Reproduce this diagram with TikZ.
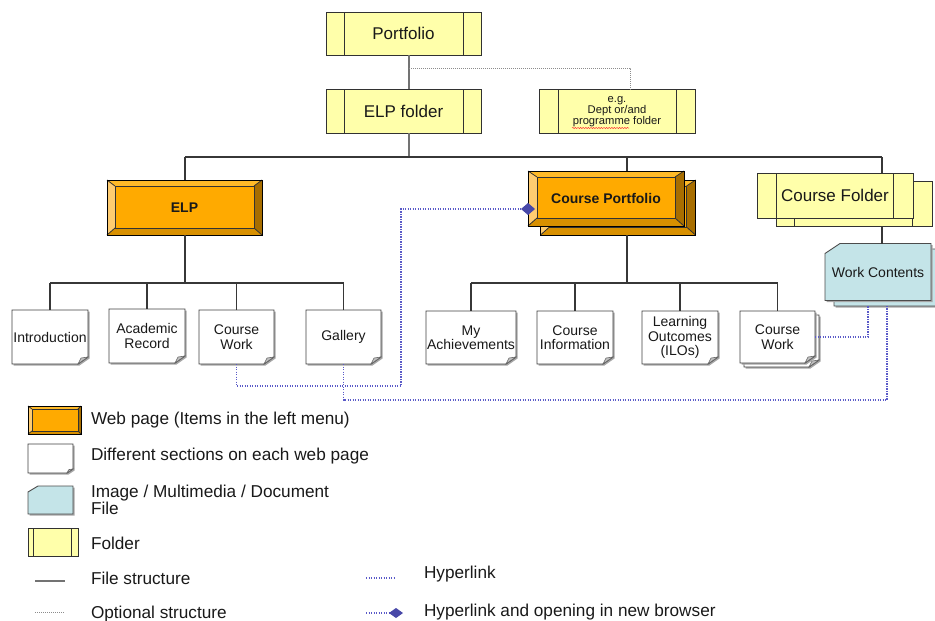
\documentclass[tikz,border=0pt]{standalone}
\usepackage{fontspec}
\setmainfont{Liberation Sans}
\usetikzlibrary{arrows.meta,calc,decorations.pathmorphing}
\pgfdeclarelayer{bg}
\pgfsetlayers{bg,main}

\definecolor{folderyellow}{RGB}{255,255,170}
\definecolor{framegray}{RGB}{50,50,50}
\definecolor{orangemain}{RGB}{255,170,0}
\definecolor{bevleft}{RGB}{255,204,112}
\definecolor{bevtop}{RGB}{255,186,40}
\definecolor{bevright}{RGB}{168,110,0}
\definecolor{bevbottom}{RGB}{216,144,0}
\definecolor{filecyan}{RGB}{196,228,232}
\definecolor{hyperblue}{RGB}{90,90,200}
\definecolor{diamondblue}{RGB}{72,72,168}
\definecolor{treegray}{RGB}{55,55,55}

\tikzset{
  box/.style={inner sep=0pt, outer sep=0pt, align=center, text=black!90},
  foldertxt/.style={box, font=\fontsize{17}{20}\selectfont},
  pagetxt/.style={box, font=\bfseries\fontsize{14}{17}\selectfont},
  notetxt/.style={box, font=\fontsize{14}{14.5}\selectfont},
  filetxt/.style={box, font=\fontsize{14}{17}\selectfont},
  smalltxt/.style={box, font=\fontsize{11.2}{11}\selectfont},
  legtxt/.style={inner sep=0pt, outer sep=0pt, anchor=west, align=left, text=black!90, font=\fontsize{17.2}{17}\selectfont},
  tree/.style={draw=treegray, line width=1.1pt},
  trunkline/.style={draw=black!55, line width=1.8pt},
  optional/.style={draw=black!45, line width=0.6pt, dash pattern=on 1pt off 1pt},
  hyper/.style={draw=hyperblue, line width=1.2pt, dash pattern=on 1.2pt off 1.3pt},
  newwin/.style={hyper, -{Diamond[width=12pt,length=14pt,fill=diamondblue,color=diamondblue]}},
  newwinsmall/.style={hyper, -{Diamond[width=10pt,length=14pt,fill=diamondblue,color=diamondblue]}},
  folderfill/.style={fill=folderyellow, draw=framegray, line width=1pt},
  folderbar/.style={draw=framegray, line width=1pt},
  bevline/.style={draw=black!80, line width=0.8pt},
  bevframe/.style={draw=black, line width=1pt},
  noteshadow/.style={fill=black!35},
  notefill/.style={fill=white, draw=black!75, line width=0.9pt},
  notefold/.style={fill=black!25, draw=black!60, line width=0.6pt},
  filefill/.style={fill=filecyan, draw=black!70, line width=0.9pt},
  squiggle/.style={draw=red!80, line width=0.5pt, decorate, decoration={snake, amplitude=0.6pt, segment length=2.6pt}},
}

\newcommand\drawfolder[3]{%
  \path[folderfill] (#1.north west) rectangle (#1.south east);
  \path[folderbar] ([xshift=#2]#1.north west) -- ([xshift=#2]#1.south west)
    ([xshift=-#3]#1.north east) -- ([xshift=-#3]#1.south east);}

\newcommand\drawbevel[5]{%
  \coordinate (bNW) at (#1.north west);
  \coordinate (bNE) at (#1.north east);
  \coordinate (bSE) at (#1.south east);
  \coordinate (bSW) at (#1.south west);
  \coordinate (iNW) at ([xshift=#2,yshift=-#4]#1.north west);
  \coordinate (iNE) at ([xshift=-#3,yshift=-#4]#1.north east);
  \coordinate (iSE) at ([xshift=-#3,yshift=#5]#1.south east);
  \coordinate (iSW) at ([xshift=#2,yshift=#5]#1.south west);
  \fill[orangemain] (bNW) rectangle (bSE);
  \fill[bevleft] (bNW) -- (iNW) -- (iSW) -- (bSW) -- cycle;
  \fill[bevtop] (bNW) -- (bNE) -- (iNE) -- (iNW) -- cycle;
  \fill[bevright] (bNE) -- (bSE) -- (iSE) -- (iNE) -- cycle;
  \fill[bevbottom] (bSW) -- (bSE) -- (iSE) -- (iSW) -- cycle;
  \path[bevline] (bNW) -- (iNW) (bNE) -- (iNE) (bSE) -- (iSE) (bSW) -- (iSW);
  \path[bevline] (iNW) rectangle (iSE);
  \path[bevframe] (bNW) rectangle (bSE);}

\newcommand\drawnote[3]{%
  \begin{scope}[transform canvas={xshift=1.5pt,yshift=-1.5pt}]
    \fill[noteshadow] (#1.north west) -- (#1.north east) -- ([yshift=#3]#1.south east)
      -- ([xshift=-#2]#1.south east) -- (#1.south west) -- cycle;
  \end{scope}
  \path[notefill] (#1.north west) -- (#1.north east) -- ([yshift=#3]#1.south east)
    -- ([xshift=-#2]#1.south east) -- (#1.south west) -- cycle;
  \path[notefold] ([xshift=-#2]#1.south east) -- ([yshift=#3]#1.south east)
    -- ([xshift=-0.7*#2,yshift=0.85*#3]#1.south east) -- cycle;}

\newcommand\drawfile[3]{%
  \begin{scope}[transform canvas={xshift=1.5pt,yshift=-1.5pt}]
    \fill[noteshadow] ([xshift=#2]#1.north west) -- (#1.north east) -- (#1.south east)
      -- (#1.south west) -- ([yshift=-#3]#1.north west) -- cycle;
  \end{scope}
  \path[filefill] ([xshift=#2]#1.north west) -- (#1.north east) -- (#1.south east)
    -- (#1.south west) -- ([yshift=-#3]#1.north west) -- cycle;}

\begin{document}
\begin{tikzpicture}[x=1pt,y=-1pt]
\useasboundingbox (0,0) rectangle (935,621);

% ---------- nodes ----------
\node[foldertxt, minimum width=155pt, minimum height=43pt] (portfolio) at (403.5,33.5) {Portfolio};
\node[foldertxt, minimum width=155pt, minimum height=44pt] (elpf) at (403.5,111) {ELP folder};
\node[smalltxt, minimum width=156pt, minimum height=44pt] (egf) at (617,111.5) {e.g.\\Dept or/and\\programme folder};

\node[pagetxt, minimum width=155pt, minimum height=55pt] (elp) at (184.5,207.5) {ELP};
\node[box, minimum width=155pt, minimum height=55pt] (cpb) at (618,207.5) {};
\node[pagetxt, minimum width=156pt, minimum height=55pt] (cp) at (606,198.5) {Course Portfolio};
\node[box, minimum width=156pt, minimum height=45pt] (cfb) at (854,203.5) {};
\node[foldertxt, minimum width=156pt, minimum height=45pt] (cf) at (835,195.5) {Course Folder};
\node[box, minimum width=106pt, minimum height=57pt] (wcb) at (887,277.5) {};
\node[filetxt, minimum width=106pt, minimum height=57pt] (wc) at (878,272) {Work Contents};

\node[notetxt, minimum width=76pt, minimum height=54pt] (intro) at (50,337) {Introduction};
\node[notetxt, minimum width=76pt, minimum height=54pt] (acad) at (147,336) {Academic\\Record};
\node[notetxt, minimum width=75pt, minimum height=54pt] (cwe) at (236.5,337) {Course\\Work};
\node[notetxt, minimum width=75pt, minimum height=54pt] (gal) at (343.5,337) {Gallery};

\node[notetxt, minimum width=90pt, minimum height=53pt] (mya) at (471,337.5) {My\\Achievements};
\node[notetxt, minimum width=76pt, minimum height=53pt] (cinfo) at (575,337.5) {Course\\Information};
\node[notetxt, minimum width=76pt, minimum height=53pt] (lo) at (680,337.5) {Learning\\Outcomes\\(ILOs)};
\node[box, minimum width=75pt, minimum height=52pt] (cwfb) at (781.5,341) {};
\node[notetxt, minimum width=75pt, minimum height=52pt] (cwf) at (777.5,337) {Course\\Work};

% legend
\node[box, minimum width=53pt, minimum height=28pt] (lgweb) at (54.5,420) {};
\node[box, minimum width=45pt, minimum height=29pt] (lgnote) at (50.5,458.5) {};
\node[box, minimum width=45pt, minimum height=28pt] (lgfile) at (50.5,500) {};
\node[box, minimum width=50pt, minimum height=28pt] (lgfolder) at (53,542) {};
\node[legtxt] (tweb) at (91,420) {Web page (Items in the left menu)};
\node[legtxt] (tnote) at (91,456) {Different sections on each web page};
\node[legtxt] (tfile) at (91,499.5) {Image / Multimedia / Document\\File};
\node[legtxt] (tfolder) at (91,543) {Folder};
\node[legtxt] (tfs) at (91,578) {File structure};
\node[legtxt] (tos) at (91,614) {Optional structure};
\node[legtxt] (thl) at (424,574) {Hyperlink};
\node[legtxt] (thn) at (424,612) {Hyperlink and opening in new browser};

% ---------- shapes behind the texts ----------
\begin{pgfonlayer}{bg}
  \drawfolder{portfolio}{18pt}{18pt}
  \drawfolder{elpf}{18pt}{18pt}
  \drawfolder{egf}{19pt}{19pt}
  \drawfolder{cfb}{18pt}{20pt}
  \drawfolder{cf}{19pt}{20pt}
  \drawfolder{lgfolder}{5pt}{7pt}
  \drawbevel{elp}{8pt}{8pt}{6pt}{7pt}
  \drawbevel{cpb}{9pt}{9pt}{6pt}{8pt}
  \drawbevel{cp}{9pt}{9pt}{6pt}{8pt}
  \drawbevel{lgweb}{4pt}{3pt}{3pt}{3pt}
  \drawnote{intro}{10pt}{7pt}
  \drawnote{acad}{10pt}{7pt}
  \drawnote{cwe}{10pt}{7pt}
  \drawnote{gal}{10pt}{7pt}
  \drawnote{mya}{10pt}{7pt}
  \drawnote{cinfo}{10pt}{7pt}
  \drawnote{lo}{10pt}{7pt}
  \drawnote{cwfb}{10pt}{7pt}
  \drawnote{cwf}{10pt}{7pt}
  \drawnote{lgnote}{6pt}{4pt}
  \drawfile{wcb}{15pt}{10pt}
  \drawfile{wc}{15pt}{10pt}
  \drawfile{lgfile}{10pt}{6pt}
\end{pgfonlayer}

% spell-check squiggle under "programme"
\coordinate (sqA) at (572,128);
\coordinate (sqB) at (629,128);
\draw[squiggle] (sqA) -- (sqB);

% ---------- tree structure ----------
\coordinate (trunk) at (409,157);
\coordinate (busL) at (185,157);
\coordinate (busR) at (882,157);
\coordinate (cpt) at (627,157);
\coordinate (ebus) at (185,283);
\coordinate (cbus) at (627,283);
\coordinate (opt) at (630,68);

\draw[trunkline] (portfolio.south -| trunk) -- (elpf.north -| trunk);
\draw[trunkline] (elpf.south -| trunk) -- (trunk);
\draw[optional] (opt -| trunk) -- (opt) -- (egf.north -| opt);
\draw[tree] (busL) -- (busR);
\draw[tree] (busL) -- (elp.north -| busL);
\draw[tree] (cpt) -- (cp.north -| cpt);
\draw[tree] (busR) -- (cf.north -| busR);
\draw[tree] (cfb.south -| busR) -- (wc.north -| busR);

\draw[tree] (elp.south -| ebus) -- (ebus);
\draw[tree] (intro.north |- ebus) -- (gal.north |- ebus);
\foreach \n in {intro,acad,cwe,gal} \draw[tree] (\n.north |- ebus) -- (\n.north);

\draw[tree] (cpb.south -| cbus) -- (cbus);
\draw[tree] (mya.north |- cbus) -- (cwf.north |- cbus);
\foreach \n in {mya,cinfo,lo,cwf} \draw[tree] (\n.north |- cbus) -- (\n.north);

% ---------- hyperlinks ----------
\coordinate (hk) at (401,386);
\coordinate (dtip) at ($(cp.west)+(7,10.5)$);
\draw[newwin] (cwe.south) |- (hk) |- (dtip);
\draw[hyper] (gal.south) -- ++(0,36) -| (wcb.south);
\draw[hyper] (cwf.east) -| ([xshift=-19pt]wcb.south);

% ---------- legend lines ----------
\coordinate (fsA) at (35,581);
\coordinate (fsB) at (65,581);
\coordinate (osA) at (35,612);
\coordinate (osB) at (65,612);
\coordinate (hlA) at (366,578);
\coordinate (hlB) at (395,578);
\coordinate (hnA) at (366,613);
\coordinate (hnB) at (403,613);
\draw[draw=black!55, line width=1.4pt] (fsA) -- (fsB);
\draw[optional] (osA) -- (osB);
\draw[hyper] (hlA) -- (hlB);
\draw[newwinsmall] (hnA) -- (hnB);
\end{tikzpicture}
\end{document}
